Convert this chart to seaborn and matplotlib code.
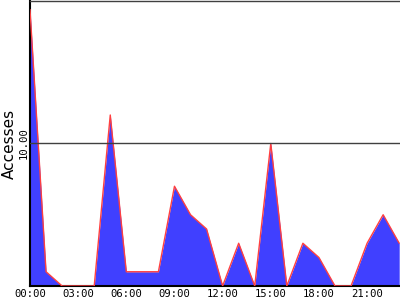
import matplotlib
matplotlib.use("Agg")
import matplotlib.pyplot as plt
import seaborn as sns
import pandas as pd

hours = list(range(24))
accesses = [19.4, 1, 0, 0, 0, 12, 1, 1, 1, 7, 5, 4, 0, 3, 0, 10, 0, 3, 2, 0, 0, 3, 5, 3]
tick_hours = [0, 3, 6, 9, 12, 15, 18, 21]
tick_labels = ["00:00", "03:00", "06:00", "09:00", "12:00", "15:00", "18:00", "21:00"]
y_ticks = [10]
y_tick_labels = ["10.00"]

df = pd.DataFrame({"hour": hours, "accesses": accesses})

sns.set_theme(style="white")
fig = plt.figure(figsize=(4, 3), dpi=100)
ax = fig.add_axes([0.075, 0.0467, 0.925, 0.95])

ax.fill_between(df["hour"], df["accesses"], 0, color="#4040ff", linewidth=0, zorder=2)
sns.lineplot(data=df, x="hour", y="accesses", ax=ax, color="#ff4040", linewidth=1.0, zorder=3)

ax.set_xlim(0, 23.05)
ax.set_ylim(0, 20)
ax.axhline(10, color="#404040", linewidth=1.0, zorder=4)

ax.set_xticks(tick_hours)
ax.set_xticklabels(tick_labels, family="DejaVu Sans Mono", fontsize=7.6, color="black")
ax.set_yticks(y_ticks)
ax.set_yticklabels(y_tick_labels, family="DejaVu Sans Mono", fontsize=7.6, rotation=90,
                   va="center", color="black")
ax.tick_params(axis="both", length=0, pad=2)
ax.tick_params(axis="y", pad=1)

ax.set_xlabel("")
ax.set_ylabel("Accesses", family="DejaVu Sans", fontsize=11, color="black", labelpad=1)

for s in ["left", "bottom"]:
    ax.spines[s].set_color("black")
    ax.spines[s].set_linewidth(1.5)
ax.spines["top"].set_color("#404040")
ax.spines["top"].set_linewidth(1.0)
ax.spines["right"].set_visible(False)

fig.savefig("out.png", dpi=100, facecolor="white")
